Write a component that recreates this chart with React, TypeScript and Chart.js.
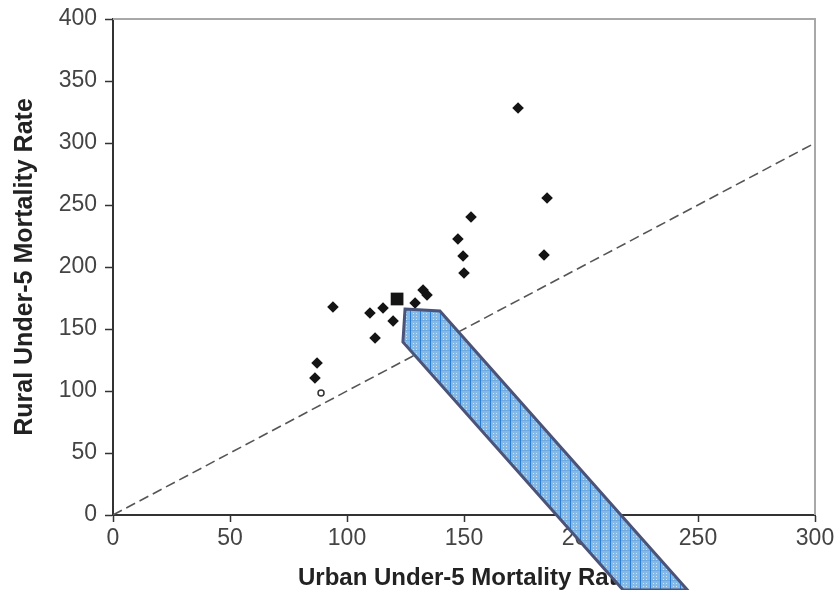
import React, { useEffect, useRef } from "react";
import { Chart, registerables } from "chart.js";

Chart.register(...registerables);

// Urban vs rural under-5 mortality (per 1000)
const urbanRates = [94.0, 109.8, 115.4, 119.7, 112.0, 129.1, 132.5, 134.2, 87.2, 86.3, 173.1, 185.5, 153.0, 147.4, 149.6, 150.0, 184.2];
const ruralRates = [167.7, 162.9, 166.9, 156.5, 142.7, 171.0, 181.5, 177.4, 122.6, 110.5, 328.2, 255.6, 240.3, 222.6, 208.9, 195.2, 209.7];

// highlighted country (large square)
const highlightUrban = [121.4];
const highlightRural = [174.2];

// partially hidden open marker
const openUrban = [88.9];
const openRural = [98.4];

// parity line (rural = urban)
const parityX = [0, 300];
const parityY = [0, 300];

// callout arrow outline, in data units
const arrowX = [124.8, 139.7, 245.5, 218.0, 123.9];
const arrowY = [166.1, 164.5, -60.5, -60.5, 139.5];

const xTicks = [0, 50, 100, 150, 200, 250, 300];
const yTicks = [0, 50, 100, 150, 200, 250, 300, 350, 400];

function makePattern(): CanvasPattern | string {
  const c = document.createElement("canvas");
  c.width = 10;
  c.height = 10;
  const g = c.getContext("2d");
  if (!g) return "#86bbe8";
  g.fillStyle = "#84b9e7";
  g.fillRect(0, 0, 10, 10);
  g.fillStyle = "#6ea9e0";
  g.fillRect(0, 0, 10, 1);
  g.fillStyle = "#2a7bd0";
  g.fillRect(0, 0, 1, 10);
  g.fillStyle = "#cfe5f8";
  for (const px of [3, 6]) {
    for (const py of [3, 6, 9]) {
      g.fillRect(px, py, 1, 1);
    }
  }
  const ctx = g.createPattern(c, "repeat");
  return ctx || "#86bbe8";
}

const framePlugin = {
  id: "frame",
  beforeDatasetsDraw(chart: any) {
    const { ctx, chartArea } = chart;
    ctx.save();
    ctx.strokeStyle = "#a8a8a8";
    ctx.lineWidth = 2;
    ctx.beginPath();
    ctx.moveTo(chartArea.left, chartArea.top);
    ctx.lineTo(chartArea.right, chartArea.top);
    ctx.lineTo(chartArea.right, chartArea.bottom);
    ctx.stroke();
    ctx.restore();
  },
};

const arrowPlugin = {
  id: "arrow",
  afterDraw(chart: any) {
    const { ctx } = chart;
    const xs = chart.scales.x;
    const ys = chart.scales.y;
    ctx.save();
    ctx.beginPath();
    arrowX.forEach((v, i) => {
      const px = xs.getPixelForValue(v);
      const py = ys.getPixelForValue(arrowY[i]);
      if (i === 0) ctx.moveTo(px, py);
      else ctx.lineTo(px, py);
    });
    ctx.closePath();
    ctx.fillStyle = makePattern();
    ctx.fill();
    ctx.lineWidth = 3;
    ctx.lineJoin = "miter";
    ctx.strokeStyle = "#4b5478";
    ctx.stroke();
    ctx.restore();
  },
};

export default function App() {
  const ref = useRef<HTMLCanvasElement | null>(null);

  useEffect(() => {
    if (!ref.current) return;
    Chart.defaults.font.family = "'Liberation Sans', Arial, sans-serif";
    const chart = new Chart(ref.current, {
      type: "scatter",
      data: {
        datasets: [
          {
            label: "Highlighted",
            data: highlightUrban.map((x, i) => ({ x, y: highlightRural[i] })),
            pointStyle: "rect",
            pointRadius: 9,
            backgroundColor: "#151515",
            borderColor: "#151515",
            borderWidth: 0,
          },
          {
            label: "Countries",
            data: urbanRates.map((x, i) => ({ x, y: ruralRates[i] })),
            pointStyle: "rectRot",
            pointRadius: 5.8,
            backgroundColor: "#141414",
            borderColor: "#141414",
            borderWidth: 0,
          },
          {
            label: "Open",
            data: openUrban.map((x, i) => ({ x, y: openRural[i] })),
            pointStyle: "circle",
            pointRadius: 3,
            backgroundColor: "rgba(0,0,0,0)",
            borderColor: "#333",
            borderWidth: 1.5,
          },
          {
            label: "Parity",
            data: parityX.map((x, i) => ({ x, y: parityY[i] })),
            showLine: true,
            pointRadius: 0,
            borderColor: "#555",
            borderWidth: 1.6,
            borderDash: [10, 5],
            fill: false,
          },
        ],
      },
      options: {
        responsive: false,
        animation: false,
        devicePixelRatio: 1,
        layout: { padding: { left: 0, right: 20, top: 19, bottom: 0 } },
        plugins: {
          legend: { display: false },
          tooltip: { enabled: false },
        },
        scales: {
          x: {
            type: "linear",
            min: 0,
            max: 300,
            afterBuildTicks: (s: any) => {
              s.ticks = xTicks.map((v) => ({ value: v }));
            },
            afterFit: (s: any) => {
              s.height = 75;
              s.paddingLeft = 0;
              s.paddingRight = 0;
            },
            grid: {
              display: true,
              drawOnChartArea: false,
              drawTicks: true,
              tickLength: 7,
              tickColor: "#333",
              tickWidth: 1.5,
            },
            border: { display: true, color: "#333", width: 2 },
            ticks: {
              padding: 3,
              color: "#444",
              font: { size: 23 },
              maxRotation: 0,
            },
            title: {
              display: true,
              text: "Urban Under-5 Mortality Rate",
              color: "#222",
              font: { size: 24, weight: "bold", lineHeight: 1.0 },
              padding: { top: 0, bottom: 0 },
            },
          },
          y: {
            type: "linear",
            min: 0,
            max: 400,
            afterBuildTicks: (s: any) => {
              s.ticks = yTicks.map((v) => ({ value: v }));
            },
            afterFit: (s: any) => {
              s.width = 113;
              s.paddingTop = 0;
              s.paddingBottom = 0;
            },
            grid: {
              display: true,
              drawOnChartArea: false,
              drawTicks: true,
              tickLength: 8,
              tickColor: "#333",
              tickWidth: 1.5,
            },
            border: { display: true, color: "#333", width: 2 },
            ticks: {
              padding: 8,
              color: "#444",
              font: { size: 23 },
            },
            title: {
              display: true,
              text: "Rural Under-5 Mortality Rate",
              color: "#222",
              font: { size: 25, weight: "bold", lineHeight: 1.1 },
              padding: { top: 11, bottom: 0 },
            },
          },
        },
      },
      plugins: [framePlugin, arrowPlugin],
    });
    return () => chart.destroy();
  }, []);

  return (
    <div style={{ position: "absolute", left: 0, top: 0, width: 835, height: 590, background: "#fff" }}>
      <canvas ref={ref} width={835} height={590} style={{ width: 835, height: 590, display: "block" }} />
    </div>
  );
}
